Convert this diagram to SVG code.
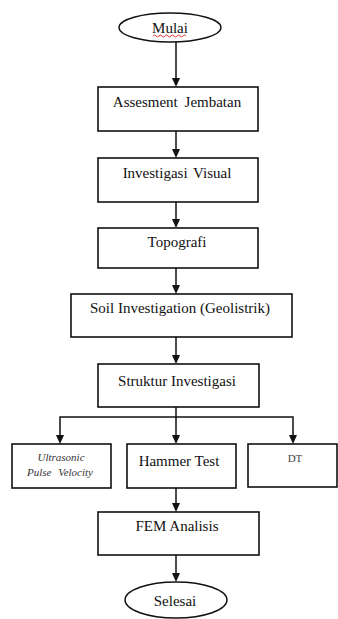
<svg xmlns="http://www.w3.org/2000/svg" width="338" height="619" viewBox="0 0 338 619">
<defs>
<style>
.box{fill:#fff;stroke:#111;stroke-width:1.6}
.c{fill:none;stroke:#111;stroke-width:1.5}
.ah{fill:#111}
</style>
</defs>
<rect width="338" height="619" fill="#fff"/>
<g id="connectors">
<path class="c" d="M176,42 V79"/>
<path class="ah" d="M172,78 L180,78 L176,87 Z"/>
<path class="c" d="M176,131 V150"/>
<path class="ah" d="M172,149 L180,149 L176,158 Z"/>
<path class="c" d="M176,202 V220"/>
<path class="ah" d="M172,219 L180,219 L176,228 Z"/>
<path class="c" d="M176,268 V286"/>
<path class="ah" d="M172,285 L180,285 L176,294 Z"/>
<path class="c" d="M176,337 V356"/>
<path class="ah" d="M172,355 L180,355 L176,364 Z"/>
<path class="c" d="M176,407 V417 M60,436 V417 H293 V436 M176,417 V436"/>
<path class="ah" d="M56,435 L64,435 L60,444 Z"/>
<path class="ah" d="M172,435 L180,435 L176,444 Z"/>
<path class="ah" d="M289,435 L297,435 L293,444 Z"/>
<path class="c" d="M176,488 V504"/>
<path class="ah" d="M172,503 L180,503 L176,512 Z"/>
<path class="c" d="M176,555 V574"/>
<path class="ah" d="M172,573 L180,573 L176,582 Z"/>
</g>
<g id="mulai">
<ellipse cx="170" cy="27.5" rx="51" ry="14.5" fill="#fff" stroke="#111" stroke-width="1.4"/>
<text x="170" y="33" font-family="Liberation Serif" font-size="15" fill="#111" text-anchor="middle">Mulai</text>
<path d="M153,36 q1.5,-2 3,0 t3,0 t3,0 t3,0 t3,0 t3,0 t3,0 t3,0 t3,0 t3,0 t3,0" fill="none" stroke="#d22" stroke-width="0.9"/>
</g>
<g id="assesment">
<rect class="box" x="98" y="87" width="160" height="44"/>
<text x="177" y="107" font-family="Liberation Serif" font-size="15" fill="#111" text-anchor="middle" word-spacing="3">Assesment Jembatan</text>
</g>
<g id="visual">
<rect class="box" x="98" y="158" width="160" height="44"/>
<text x="177" y="178" font-family="Liberation Serif" font-size="15" fill="#111" text-anchor="middle" word-spacing="2">Investigasi Visual</text>
</g>
<g id="topografi">
<rect class="box" x="98" y="228" width="160" height="40"/>
<text x="177" y="247" font-family="Liberation Serif" font-size="15" fill="#111" text-anchor="middle">Topografi</text>
</g>
<g id="soil">
<rect class="box" x="71" y="294" width="221" height="43"/>
<text x="180" y="313" font-family="Liberation Serif" font-size="15" fill="#111" text-anchor="middle">Soil Investigation (Geolistrik)</text>
</g>
<g id="struktur">
<rect class="box" x="98" y="364" width="161" height="43"/>
<text x="177" y="386" font-family="Liberation Serif" font-size="15" fill="#111" text-anchor="middle">Struktur Investigasi</text>
</g>
<g id="upv">
<rect class="box" x="12" y="444" width="99" height="44"/>
<text x="61" y="461" font-family="Liberation Serif" font-size="11" font-style="italic" fill="#333" text-anchor="middle">Ultrasonic</text>
<text x="60" y="476" font-family="Liberation Serif" font-size="11" font-style="italic" fill="#333" text-anchor="middle" word-spacing="4">Pulse Velocity</text>
</g>
<g id="hammer">
<rect class="box" x="127" y="444" width="109" height="44"/>
<text x="179" y="466" font-family="Liberation Serif" font-size="15" fill="#111" text-anchor="middle">Hammer Test</text>
</g>
<g id="dt">
<rect class="box" x="248" y="444" width="89" height="43"/>
<text x="295" y="462" font-family="Liberation Serif" font-size="11" fill="#444" text-anchor="middle">DT</text>
</g>
<g id="fem">
<rect class="box" x="98" y="512" width="161" height="43"/>
<text x="177" y="531" font-family="Liberation Serif" font-size="15" fill="#111" text-anchor="middle">FEM Analisis</text>
</g>
<g id="selesai">
<ellipse cx="176" cy="600" rx="51" ry="18" fill="#fff" stroke="#111" stroke-width="1.4"/>
<text x="175" y="606" font-family="Liberation Serif" font-size="15" fill="#111" text-anchor="middle">Selesai</text>
</g>
</svg>
